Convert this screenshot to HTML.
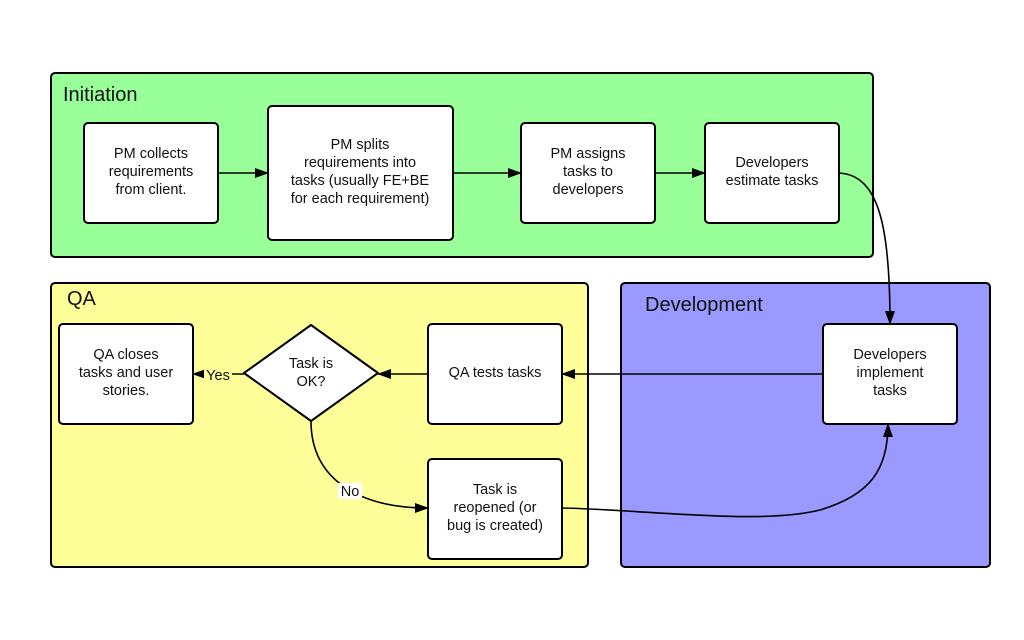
<!DOCTYPE html>
<html><head><meta charset="utf-8"><style>
html,body{margin:0;padding:0;background:#fff;}
svg{display:block;}
text{font-family:"Liberation Sans",sans-serif;font-size:14.5px;fill:#111;}
</style></head><body>
<svg width="1024" height="640" viewBox="0 0 1024 640">
<defs>
<marker id="a" markerWidth="14" markerHeight="10" refX="13" refY="5" orient="auto" markerUnits="userSpaceOnUse">
<path d="M0,0 L14,5 L0,10 z" fill="#000"/></marker>
</defs>
<g stroke="#000" stroke-width="2">
<rect x="51" y="73" width="822" height="184" rx="4" fill="#99ff99"/>
<rect x="51" y="283" width="537" height="284" rx="4" fill="#ffff99"/>
<rect x="621" y="283" width="369" height="284" rx="4" fill="#9999ff"/>
</g>
<text x="63" y="101" style="font-size:20px">Initiation</text>
<text x="67" y="305" style="font-size:20px">QA</text>
<text x="645" y="311" style="font-size:20px">Development</text>
<g stroke="#000" stroke-width="2" fill="#fff">
<rect x="84" y="123" width="134" height="100" rx="4"/>
<rect x="268" y="106" width="185" height="134" rx="4"/>
<rect x="521" y="123" width="134" height="100" rx="4"/>
<rect x="705" y="123" width="134" height="100" rx="4"/>
<rect x="823" y="324" width="134" height="100" rx="4"/>
<rect x="428" y="324" width="134" height="100" rx="4"/>
<rect x="428" y="459" width="134" height="100" rx="4"/>
<rect x="59" y="324" width="134" height="100" rx="4"/>
<path d="M311,325 L378,373 L311,421 L244,373 Z" stroke-linejoin="round"/>
</g>
<g stroke="#000" stroke-width="1.6" fill="none" marker-end="url(#a)">
<path d="M218,173 L268,173"/>
<path d="M453,173 L521,173"/>
<path d="M655,173 L705,173"/>
<path d="M839,173 C880,175 890,230 890,324"/>
<path d="M823,374 L562,374"/>
<path d="M428,374 L378,374"/>
<path d="M244,374 L193,374"/>
<path d="M311,421 C311,480 360,508 428,508"/>
<path d="M562,508 C650,510 760,525 820,510 C870,495 888,470 888,424"/>
</g>
<rect x="204" y="366" width="28" height="16" fill="#ffff99"/>
<text x="218" y="380" text-anchor="middle">Yes</text>
<rect x="338" y="483" width="24" height="16" fill="#fff"/>
<text x="350" y="496" text-anchor="middle">No</text>
<g text-anchor="middle">
<text x="151" y="158">PM collects</text><text x="151" y="176">requirements</text><text x="151" y="194">from client.</text>
<text x="360" y="149">PM splits</text><text x="360" y="167">requirements into</text><text x="360" y="185">tasks (usually FE+BE</text><text x="360" y="203">for each requirement)</text>
<text x="588" y="158">PM assigns</text><text x="588" y="176">tasks to</text><text x="588" y="194">developers</text>
<text x="772" y="167">Developers</text><text x="772" y="185">estimate tasks</text>
<text x="890" y="359">Developers</text><text x="890" y="377">implement</text><text x="890" y="395">tasks</text>
<text x="495" y="377">QA tests tasks</text>
<text x="495" y="494">Task is</text><text x="495" y="512">reopened (or</text><text x="495" y="530">bug is created)</text>
<text x="126" y="359">QA closes</text><text x="126" y="377">tasks and user</text><text x="126" y="395">stories.</text>
<text x="311" y="368">Task is</text><text x="311" y="386">OK?</text>
</g>
</svg>
</body></html>
